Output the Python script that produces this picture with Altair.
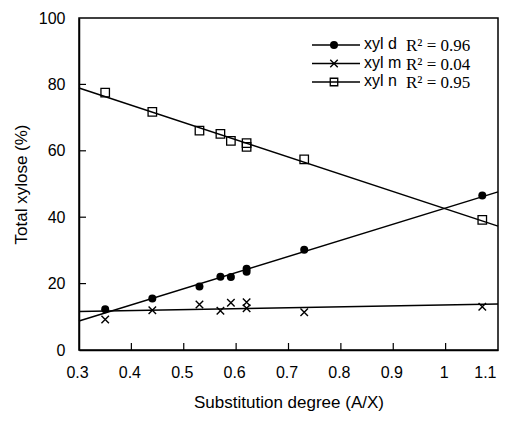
import altair as alt
import pandas as pd

# ---- data ----
sub_degree = [0.35, 0.44, 0.53, 0.57, 0.59, 0.62, 0.62, 0.73, 1.07]
xyl_d = [12.3, 15.5, 19.1, 22.1, 22.0, 23.6, 24.5, 30.2, 46.5]
xyl_m = [9.2, 12.0, 13.7, 11.8, 14.2, 14.4, 12.6, 11.4, 13.0]
xyl_n = [77.5, 71.7, 66.1, 65.1, 63.0, 62.3, 61.2, 57.4, 39.2]

series_names = ["xyl d", "xyl m", "xyl n"]
r2_labels = ["R\u00b2 = 0.96", "R\u00b2 = 0.04", "R\u00b2 = 0.95"]

x_ticks = [0.3, 0.4, 0.5, 0.6, 0.7, 0.8, 0.9, 1.0, 1.1]
y_ticks = [0, 20, 40, 60, 80, 100]
x_inner_ticks = [0.4, 0.5, 0.6, 0.7, 0.8, 0.9, 1.0]
y_inner_ticks = [20, 40, 60, 80]

rows = []
for name, vals in zip(series_names, [xyl_d, xyl_m, xyl_n]):
    for xv, yv in zip(sub_degree, vals):
        rows.append({"x": xv, "y": yv, "series": name})
df = pd.DataFrame(rows)

W, H = 419, 332
FONT = "Liberation Sans"
SERIF = "Liberation Serif"

xscale = alt.Scale(domain=[0.3, 1.1], nice=False, zero=False)
yscale = alt.Scale(domain=[0, 100], nice=False)

xaxis = alt.Axis(values=x_ticks, format=".2~f", title="Substitution degree (A/X)",
                 ticks=False, domain=True, domainColor="black", domainWidth=1.5,
                 grid=False, labelPadding=14, titlePadding=14, labelFlush=False,
                 labelAlign=alt.ConditionalAxisLabelAlign(
                     condition={"test": "datum.value > 1.05", "value": "right"}, value="center"),
                 labelOffset=-2,
                 labelFont=FONT, labelFontSize=16, labelColor="black",
                 titleFont=FONT, titleFontSize=17, titleFontWeight="normal", titleColor="black")
yaxis = alt.Axis(values=y_ticks, title="Total xylose (%)", ticks=False, domain=True,
                 domainColor="black", domainWidth=1.5,
                 grid=False, labelPadding=14, titlePadding=8, labelFlush=False,
                 labelFont=FONT, labelFontSize=16, labelColor="black",
                 titleFont=FONT, titleFontSize=17, titleFontWeight="normal", titleColor="black")

X = lambda f: alt.X(f, scale=xscale, axis=xaxis)
Y = lambda f: alt.Y(f, scale=yscale, axis=yaxis)

base = alt.Chart(df)

lines = base.transform_regression(
    "x", "y", groupby=["series"], extent=[0.3, 1.1]
).mark_line(color="black", strokeWidth=1.5).encode(
    x=X("x:Q"), y=Y("y:Q"), detail="series:N",
)

CROSS = "M-1,-1L1,1M-1,1L1,-1"

pts_d = base.transform_filter(alt.datum.series == "xyl d").mark_point(
    shape="circle", filled=True, size=64, color="black", opacity=1
).encode(x=X("x:Q"), y=Y("y:Q"))

pts_m = base.transform_filter(alt.datum.series == "xyl m").mark_point(
    shape=CROSS, filled=False, size=56, color="black", strokeWidth=1.4, opacity=1
).encode(x=X("x:Q"), y=Y("y:Q"))

pts_n = base.transform_filter(alt.datum.series == "xyl n").mark_point(
    shape="square", filled=False, size=72, color="black", strokeWidth=1.3, opacity=1
).encode(x=X("x:Q"), y=Y("y:Q"))

# inward tick marks
xt = alt.Chart(pd.DataFrame({"x": x_inner_ticks})).mark_rule(color="black", strokeWidth=1.2).encode(
    x=X("x:Q"), y=alt.value(H), y2=alt.value(H - 7))
yt = alt.Chart(pd.DataFrame({"y": y_inner_ticks})).mark_rule(color="black", strokeWidth=1.2).encode(
    y=Y("y:Q"), x=alt.value(0), x2=alt.value(7))

# manual legend
legend_layers = []
marker_specs = [
    dict(shape="circle", filled=True, size=64, strokeWidth=1),
    dict(shape=CROSS, filled=False, size=56, strokeWidth=1.4),
    dict(shape="square", filled=False, size=56, strokeWidth=1.3),
]
for i, (name, r2, ms) in enumerate(zip(series_names, r2_labels, marker_specs)):
    ly = 27 + 18.5 * i
    d = pd.DataFrame({"name": [name], "r2": [r2]})
    legend_layers.append(alt.Chart(d).mark_rule(color="black", strokeWidth=1.4).encode(
        x=alt.value(233), x2=alt.value(281), y=alt.value(ly)))
    legend_layers.append(alt.Chart(d).mark_point(color="black", opacity=1, **ms).encode(
        x=alt.value(255), y=alt.value(ly)))
    legend_layers.append(alt.Chart(d).mark_text(
        align="left", baseline="middle", font=FONT, fontSize=16, color="black"
    ).encode(x=alt.value(285), y=alt.value(ly - 1), text="name:N"))
    legend_layers.append(alt.Chart(d).mark_text(
        align="left", baseline="middle", font=SERIF, fontSize=17, color="black"
    ).encode(x=alt.value(327), y=alt.value(ly + 1), text="r2:N"))

chart = alt.layer(lines, xt, yt, pts_d, pts_m, pts_n, *legend_layers).properties(
    width=W, height=H,
    background="white",
    autosize=alt.AutoSizeParams(type="none"),
    padding={"left": 71, "top": 10, "right": 2, "bottom": 63},
).configure_view(
    stroke="black", strokeWidth=1.5
)

chart.save("out.html", embed_options={"renderer": "svg", "actions": False})
